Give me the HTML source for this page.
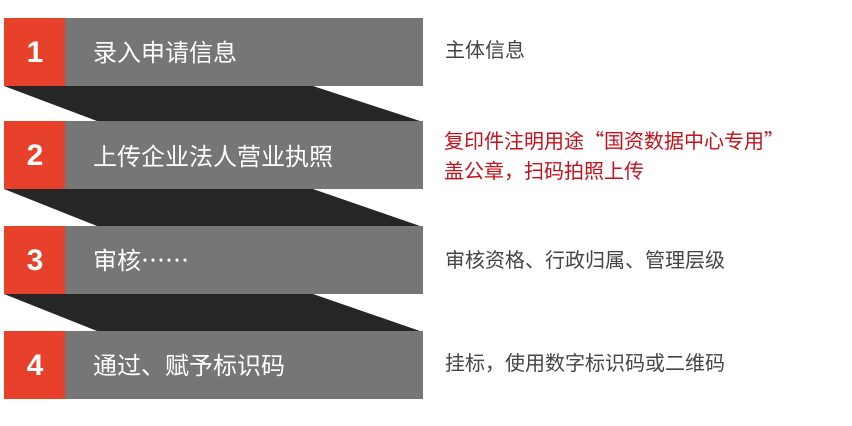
<!DOCTYPE html>
<html><head><meta charset="utf-8"><style>
html,body{margin:0;padding:0;background:#fff;}
svg{display:block}
text{font-family:"Noto Sans CJK SC","Liberation Sans",sans-serif;}
.d{font-family:"Liberation Sans",sans-serif;}
</style></head><body>
<svg width="852" height="426" viewBox="0 0 852 426" xmlns="http://www.w3.org/2000/svg">
<g fill="#262626">
<polygon points="4,86 313,86 420,121 97,121"/>
<polygon points="4,189 313,189 420,226 97,226"/>
<polygon points="4,294 313,294 420,331 97,331"/>
</g>
<g fill="#767676">
<rect x="4" y="18" width="419" height="68"/>
<rect x="4" y="121" width="419" height="68"/>
<rect x="4" y="226" width="419" height="68"/>
<rect x="4" y="331" width="419" height="68"/>
</g>
<g fill="#e8412b">
<rect x="4" y="18" width="61" height="68"/>
<rect x="4" y="121" width="61" height="68"/>
<rect x="4" y="226" width="61" height="68"/>
<rect x="4" y="331" width="61" height="68"/>
</g>
<g fill="#fff" font-weight="bold" font-size="30" text-anchor="middle" class="d">
<text class="d" x="35" y="62">1</text>
<text class="d" x="35" y="165">2</text>
<text class="d" x="35" y="270">3</text>
<text class="d" x="35" y="375">4</text>
</g>
<g fill="#fff" font-size="24">
<text x="93" y="61">录入申请信息</text>
<text x="93" y="165">上传企业法人营业执照</text>
<text x="93" y="269">审核……</text>
<text x="93" y="374">通过、赋予标识码</text>
</g>
<g font-size="20" fill="#444">
<text x="445" y="57">主体信息</text>
<text x="444" y="148" fill="#c4111b">复印件注明用途“国资数据中心专用”</text>
<text x="444" y="178" fill="#c4111b">盖公章，扫码拍照上传</text>
<text x="445" y="267">审核资格、行政归属、管理层级</text>
<text x="445" y="370">挂标，使用数字标识码或二维码</text>
</g>
</svg>
</body></html>
